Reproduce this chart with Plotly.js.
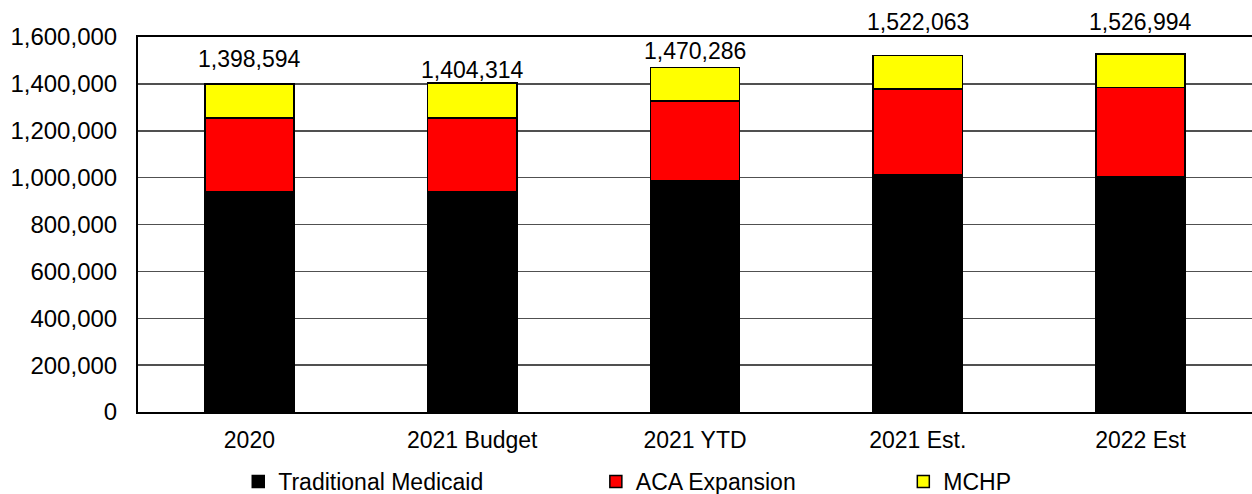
<!DOCTYPE html>
<html>
<head>
<meta charset="utf-8">
<script src="https://cdn.plot.ly/plotly-3.0.1.min.js"></script>
<style>
  html, body { margin: 0; padding: 0; background: #fff; }
  #chart { width: 1252px; height: 494px; }
</style>
</head>
<body>
<div id="chart"></div>
<script>
// categorías del eje x
var categories = ["2020", "2021 Budget", "2021 YTD", "2021 Est.", "2022 Est"];

// valores (estimados)
var traditional = [940000, 940000, 988000, 1014000, 1004000];
var aca = [315000, 314000, 340000, 364000, 381000];
var mchp = [143594, 150314, 142286, 144063, 141994];

// totales que aparecen encima de cada barra
var totals = [1398594, 1404314, 1470286, 1522063, 1526994];

var yTicks = [0, 200000, 400000, 600000, 800000, 1000000, 1200000, 1400000, 1600000];

var FONT = "Liberation Sans, Arial, sans-serif";

function serie(name, values, color, legendId) {
  return {
    type: "bar",
    name: name,
    x: categories,
    y: values,
    legend: legendId,
    marker: { color: color, line: { color: "#000", width: 1.5 } },
    hoverinfo: "none",
  };
}

var data = [
  serie("Traditional Medicaid", traditional, "#000000", "legend"),
  serie("ACA Expansion", aca, "#ff0000", "legend2"),
  serie("MCHP", mchp, "#ffff00", "legend3"),
];

// desplazamiento vertical de cada etiqueta (en el original no son uniformes)
var labelShift = [10, -2, 1, 18, 17];

// etiquetas con el total encima de cada barra
var annotations = categories.map(function (c, i) {
  return {
    x: i,
    y: totals[i],
    xref: "x",
    yref: "y",
    text: totals[i].toLocaleString("en-US"),
    showarrow: false,
    yanchor: "bottom",
    yshift: labelShift[i],
    font: { family: FONT, size: 23, color: "#000" },
  };
});

function legendAt(x) {
  return {
    orientation: "h",
    x: x,
    y: -0.128,
    xanchor: "left",
    yanchor: "top",
    font: { family: FONT, size: 23, color: "#000" },
    bgcolor: "rgba(0,0,0,0)",
  };
}

var layout = {
  width: 1252,
  height: 494,
  margin: { l: 138, r: 0, t: 37, b: 82, autoexpand: false },
  paper_bgcolor: "#fff",
  plot_bgcolor: "#fff",
  barmode: "stack",
  bargap: 0.6,
  font: { family: FONT, size: 23, color: "#000" },
  xaxis: {
    type: "category",
    showline: true,
    mirror: true,
    linecolor: "#000",
    linewidth: 2,
    ticks: "outside",
    ticklen: 6,
    tickcolor: "rgba(0,0,0,0)",
    tickfont: { family: FONT, size: 23, color: "#000" },
  },
  yaxis: {
    range: [0, 1600000],
    tickvals: yTicks,
    tickformat: ",d",
    showline: true,
    linecolor: "#000",
    linewidth: 2,
    showgrid: true,
    gridcolor: "#505050",
    gridwidth: 1.5,
    zeroline: false,
    ticks: "outside",
    ticklen: 14,
    tickcolor: "rgba(0,0,0,0)",
    tickfont: { family: FONT, size: 24, color: "#000" },
  },
  annotations: annotations,
  legend: legendAt(0.09),
  legend2: legendAt(0.411),
  legend3: legendAt(0.687),
  showlegend: true,
};

Plotly.newPlot("chart", data, layout, { staticPlot: true, displayModeBar: false });
</script>
</body>
</html>
